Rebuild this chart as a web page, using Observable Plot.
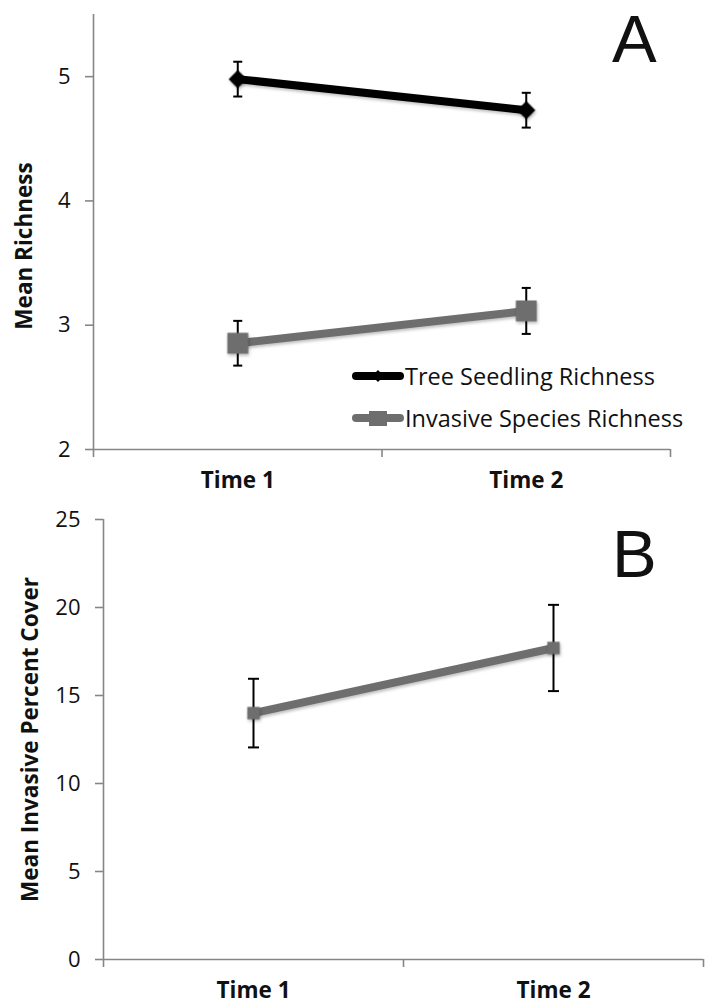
<!DOCTYPE html>
<html>
<head>
<meta charset="utf-8">
<script src="https://cdn.jsdelivr.net/npm/d3@7"></script>
<script src="https://cdn.jsdelivr.net/npm/@observablehq/plot@0.6"></script>
<style>
  html, body { margin: 0; padding: 0; background: #fff; }
  body { width: 712px; height: 1006px; position: relative; font-family: "Open Sans", sans-serif; overflow: hidden; }
  .panel { position: absolute; left: 0; }
  .panel svg { display: block; overflow: visible; }
  .panel g[aria-label="line"], .panel g.shadowed { filter: drop-shadow(1.5px 2px 1.5px rgba(0,0,0,0.25)); }
  .letter { position: absolute; font-family: "Liberation Sans", sans-serif; font-size: 67px; line-height: normal; color: #111; }
  .legend { position: absolute; left: 352px; top: 361px; font-family: "Open Sans", sans-serif; font-size: 23.5px; color: #111; }
  .legend .row { display: flex; align-items: center; height: 30px; margin-bottom: 12px; white-space: nowrap; }
  .legend svg { display: block; margin-right: 1px; }
</style>
</head>
<body>
<div id="panelA" class="panel" style="top:0"></div>
<div id="panelB" class="panel" style="top:500px"></div>
<div class="letter" style="left:612px; top:0px">A</div>
<div class="letter" style="left:612px; top:515px">B</div>
<div class="legend" id="legend"></div>
<script>
// ---- data ----
const categories = ["Time 1", "Time 2"];
const seriesNames = ["Tree Seedling Richness", "Invasive Species Richness"];
const treeMean = [4.98, 4.73];
const treeErr = [0.14, 0.14];
const invRichMean = [2.855, 3.115];
const invRichErr = [0.18, 0.185];
const coverMean = [14.0, 17.7];
const coverErr = [1.95, 2.45];
const richTicks = [2, 3, 4, 5];
const coverTicks = [0, 5, 10, 15, 20, 25];

const axisGray = "#868686";
const seriesGray = "#6e6e6e";

// category slot centers on a linear x scale (slot i spans i..i+1)
const rows = (means, errs) => means.map((m, i) => ({
  time: categories[i], xi: i + 0.5, y: m, lo: m - errs[i], hi: m + errs[i]
}));
const treeRows = rows(treeMean, treeErr);
const invRows = rows(invRichMean, invRichErr);
const coverRows = rows(coverMean, coverErr);

// horizontal cap symbol for error bars
const capSymbol = { draw(ctx, size) { const w = Math.sqrt(size) * 0.5; ctx.moveTo(-w, 0); ctx.lineTo(w, 0); } };

const slotTicks = d3.range(categories.length + 1);
const labelTicks = categories.map((c, i) => i + 0.5);

function axes(yTicks, yDomain, label, labelDx, labelDy, xPad) {
  return [
    Plot.ruleX([0], {y1: yDomain[0], y2: yDomain[1], stroke: axisGray, strokeWidth: 1.6}),
    Plot.ruleY([yDomain[0]], {stroke: axisGray, strokeWidth: 1.6}),
    Plot.axisY({ticks: yTicks, tickSize: 8, tickPadding: 15, stroke: axisGray, strokeWidth: 1.6, fill: "#111",
      fontSize: 22, tickFormat: d => String(d), label: null}),
    Plot.text([label], {frameAnchor: "left", rotate: -90, dx: labelDx, dy: labelDy,
      fontWeight: "bold", fontSize: 22.5, fill: "#111", textAnchor: "middle"}),
    Plot.axisX({ticks: slotTicks, tickSize: 8, tickFormat: () => "", stroke: axisGray, strokeWidth: 1.6, label: null}),
    Plot.axisX({ticks: labelTicks, tickSize: 0, tickPadding: xPad, fontWeight: "bold", fontSize: 22.5, fill: "#111",
      tickFormat: d => categories[Math.floor(d)], label: null})
  ];
}

function errorBars(data, capR) {
  return [
    Plot.ruleX(data, {x: "xi", y1: "lo", y2: "hi", stroke: "#000", strokeWidth: 2}),
    Plot.dot(data, {x: "xi", y: "lo", symbol: capSymbol, r: capR, stroke: "#000", strokeWidth: 2, fill: "none"}),
    Plot.dot(data, {x: "xi", y: "hi", symbol: capSymbol, r: capR, stroke: "#000", strokeWidth: 2, fill: "none"})
  ];
}

const chartA = Plot.plot({
  width: 712, height: 500,
  marginLeft: 93, marginRight: 42, marginTop: 14, marginBottom: 51,
  style: {fontFamily: "Open Sans", fontSize: "22px", background: "#fff"},
  x: {type: "linear", domain: [0, categories.length], axis: null},
  y: {domain: [2, 5.5], axis: null},
  marks: [
    ...axes(richTicks, [2, 5.5], "Mean Richness", -69, 14, 23),
    ...errorBars(treeRows, 5.1),
    ...errorBars(invRows, 5.1),
    Plot.line(treeRows, {x: "xi", y: "y", stroke: "#000", strokeWidth: 8}),
    Plot.dot(treeRows, {x: "xi", y: "y", symbol: "diamond2", r: 8.2, fill: "#000", stroke: "none", className: "shadowed"}),
    Plot.line(invRows, {x: "xi", y: "y", stroke: seriesGray, strokeWidth: 8}),
    Plot.dot(invRows, {x: "xi", y: "y", symbol: "square", r: 11.8, fill: seriesGray, stroke: "none", className: "shadowed"})
  ]
});
document.getElementById("panelA").append(chartA);

const chartB = Plot.plot({
  width: 712, height: 506,
  marginLeft: 103, marginRight: 9, marginTop: 19, marginBottom: 47,
  style: {fontFamily: "Open Sans", fontSize: "22px", background: "#fff"},
  x: {type: "linear", domain: [0, categories.length], axis: null},
  y: {domain: [0, 25], axis: null},
  marks: [
    ...axes(coverTicks, [0, 25], "Mean Invasive Percent Cover", -73, 0, 23),
    ...errorBars(coverRows, 6.2),
    Plot.line(coverRows, {x: "xi", y: "y", stroke: seriesGray, strokeWidth: 8}),
    Plot.dot(coverRows, {x: "xi", y: "y", symbol: "square", r: 7, fill: seriesGray, stroke: "none", className: "shadowed"})
  ]
});
document.getElementById("panelB").append(chartB);

// legend for panel A
const legend = d3.select("#legend");
const swatches = [
  {name: seriesNames[0], color: "#000", marker: "diamond"},
  {name: seriesNames[1], color: seriesGray, marker: "square"}
];
for (const s of swatches) {
  const row = legend.append("div").attr("class", "row");
  const svg = row.append("svg").attr("width", 52).attr("height", 30);
  svg.append("line").attr("x1", 4).attr("x2", 48).attr("y1", 15).attr("y2", 15)
    .attr("stroke", s.color).attr("stroke-width", 8).attr("stroke-linecap", "round");
  if (s.marker === "diamond") {
    svg.append("path").attr("d", "M26,9L32,15L26,21L20,15Z").attr("fill", s.color);
  } else {
    svg.append("rect").attr("x", 17).attr("y", 8).attr("width", 18).attr("height", 15).attr("fill", s.color);
  }
  row.append("span").text(s.name);
}
</script>
</body>
</html>
